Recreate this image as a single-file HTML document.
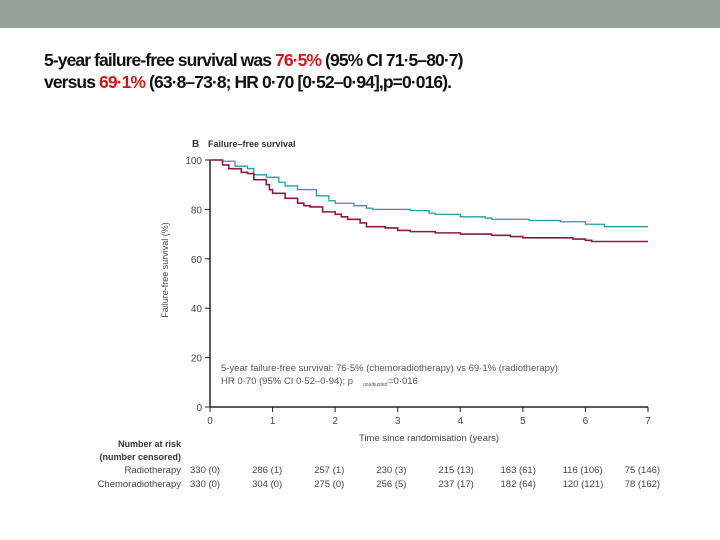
<!DOCTYPE html>
<html><head><meta charset="utf-8"><style>
body{margin:0;width:720px;height:540px;background:#fff;position:relative;overflow:hidden;font-family:"Liberation Sans",sans-serif}
#banner{position:absolute;left:0;top:0;width:720px;height:28px;background:#95a199}
#head{position:absolute;left:44px;top:49px;font-size:17.5px;font-weight:bold;line-height:22px;letter-spacing:-0.9px;color:#111;white-space:nowrap}
.r{color:#d01818}
svg{position:absolute;left:0;top:0}
text{font-family:"Liberation Sans",sans-serif}
</style></head><body>
<div id="banner"></div>
<div id="head">5-year failure-free survival was <span class="r">76·5%</span> (95% CI 71·5–80·7)<br>versus <span class="r">69·1%</span> (63·8–73·8; HR 0·70 [0·52–0·94],p=0·016).</div>
<svg id="chart" width="720" height="540"></svg>
<script>
const yTicks=[0,20,40,60,80,100];
const xTicks=[0,1,2,3,4,5,6,7];
const chemoT=[0,.2,.4,.6,.7,.9,1.1,1.2,1.4,1.7,1.9,2.0,2.3,2.5,2.6,3.2,3.5,3.6,4.0,4.4,4.5,5.1,5.6,6.0,6.3,7];
const chemoS=[100,99.5,97.5,96.5,94,93,91,89.5,88,85.5,83.5,82.5,81.5,80.5,80,79.5,78.5,78,77,76.5,76,75.5,75,74,73,73];
const radioT=[0,.2,.3,.5,.6,.7,.9,.95,1.0,1.2,1.4,1.5,1.6,1.8,2.0,2.1,2.2,2.4,2.5,2.8,3.0,3.2,3.6,4.0,4.5,4.8,5.0,5.8,6.0,6.1,7];
const radioS=[100,98,96.5,95,94.5,92,90,88,86.5,84.5,82.5,81.5,81,79,78,77,76,74.5,73,72.5,71.5,71,70.5,70,69.5,69,68.5,68,67.5,67,67];
const riskRadio=["330 (0)","286 (1)","257 (1)","230 (3)","215 (13)","163 (61)","116 (106)","75 (146)"];
const riskChemo=["330 (0)","304 (0)","275 (0)","256 (5)","237 (17)","182 (64)","120 (121)","78 (162)"];
const X=t=>210+t*(648-210)/7, Y=v=>407-v*(407-160)/100;
const svg=document.getElementById('chart');const NS='http://www.w3.org/2000/svg';
function mk(tag,a,txt){const e=document.createElementNS(NS,tag);for(const k in a)e.setAttribute(k,a[k]);if(txt!==undefined)e.textContent=txt;svg.appendChild(e);return e;}
let e;
e=mk('line',{x1:X(0),y1:Y(100),x2:X(0),y2:Y(0),stroke:'#222','stroke-width':1.5});


e=mk('line',{x1:X(0),y1:Y(0),x2:X(7),y2:Y(0),stroke:'#222','stroke-width':1.5});


yTicks.forEach(v=>{mk('line',{x1:X(0)-5,y1:Y(v),x2:X(0),y2:Y(v),stroke:'#222'});
e=mk('text',{x:X(0)-8,y:Y(v)+4,'font-size':10,fill:'#444','text-anchor':'end'},v);

});
xTicks.forEach(t=>{mk('line',{x1:X(t),y1:Y(0),x2:X(t),y2:Y(0)+5,stroke:'#222'});
e=mk('text',{x:X(t),y:Y(0)+17,'font-size':10,fill:'#444','text-anchor':'middle'},t);

});
e=mk('text',{x:429,y:441,'font-size':9.5,fill:'#444','text-anchor':'middle'},'Time since randomisation (years)');


e=mk('text',{x:0,y:0,'font-size':9,fill:'#444','text-anchor':'middle',transform:'translate(168,270) rotate(-90)'},'Failure-free survival (%)');


e=mk('text',{x:192,y:147,'font-size':10,fill:'#333','font-weight':'bold'},'B');


e=mk('text',{x:208,y:147,'font-size':9,fill:'#333','font-weight':'bold'},'Failure–free survival');


function step(T,S){let d='M'+X(T[0])+','+Y(S[0]);for(let i=1;i<T.length;i++){d+='H'+X(T[i])+'V'+Y(S[i]);}return d;}
e=mk('path',{d:step(chemoT,chemoS),fill:'none',stroke:'#2a9aa3','stroke-width':1.3});


e=mk('path',{d:step(radioT,radioS),fill:'none',stroke:'#8b1a45','stroke-width':1.6});


e=mk('text',{x:221,y:371,'font-size':9.5,fill:'#555'},'5-year failure-free survival: 76·5% (chemoradiotherapy) vs 69·1% (radiotherapy)');


e=mk('text',{x:221,y:384,'font-size':9.5,fill:'#555'},'HR 0·70 (95% CI 0·52–0·94); p');


e=mk('text',{x:363,y:386,'font-size':5,fill:'#555'},'unadjusted');
e=mk('text',{x:388,y:384,'font-size':9.5,fill:'#555'},'=0·016');
e=mk('text',{x:181,y:447,'font-size':9,fill:'#333','font-weight':'bold','text-anchor':'end'},'Number at risk');


e=mk('text',{x:181,y:460,'font-size':9,fill:'#333','font-weight':'bold','text-anchor':'end'},'(number censored)');
e=mk('text',{x:181,y:473,'font-size':9.5,fill:'#444','text-anchor':'end'},'Radiotherapy');


e=mk('text',{x:181,y:487,'font-size':9.5,fill:'#444','text-anchor':'end'},'Chemoradiotherapy');


riskRadio.forEach((s,i)=>{e=mk('text',{x:190+i*62.1,y:473,'font-size':9.5,fill:'#444'},s);

});
riskChemo.forEach((s,i)=>{e=mk('text',{x:190+i*62.1,y:487,'font-size':9.5,fill:'#444'},s);

});
</script>
</body></html>
